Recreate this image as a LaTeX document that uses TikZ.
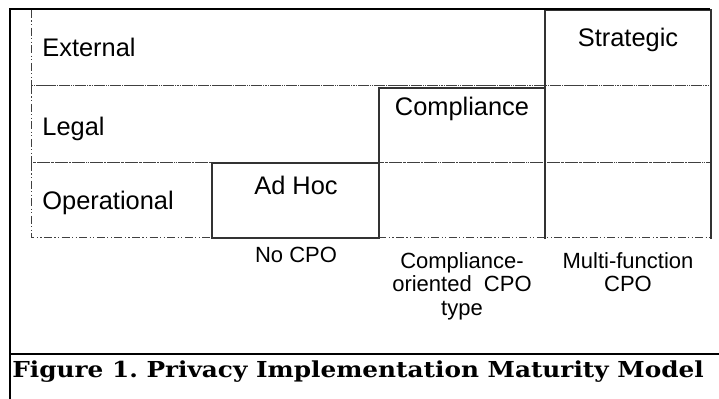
\documentclass[tikz,border=0pt]{standalone}
\usepackage{fontspec}
\setmainfont{Liberation Sans}
\newfontfamily\capfont{DejaVu Serif}
\usetikzlibrary{positioning}

\begin{document}
\begin{tikzpicture}[
            x = 0.5pt, y = -0.5pt, % one unit = one pixel
            frame/.style = {line width = 1pt},
            row/.style = {draw = black!75, line width = 0.5pt,
                dash pattern = on 4pt off 1.2pt on 0.6pt off 1.2pt on 0.6pt off 1.2pt},
            stage/.style = {draw = black!80, line width = 0.6pt},
            tag/.style = {font = \fontsize{12.7}{15}\selectfont, inner sep = 0pt},
            cpo/.style = {font = \fontsize{11}{11.75}\selectfont, align = center, inner sep = 0pt}
        ]
        \useasboundingbox (0,0) rectangle (719,399);

        % dimension rows
        \draw[row] (31,10) rectangle (711,86);
        \draw[row] (31,86) rectangle (711,163);
        \draw[row] (31,163) rectangle (711,238);

        \node[tag, anchor=base west] (Ext) at (42,57) {External};
        \node[tag, anchor=base west] (Leg) at (42,136) {Legal};
        \node[tag, anchor=base west] (Ops) at (42,210) {Operational};

        % maturity stages
        \draw[stage] (212,163) rectangle (379,238);
        \draw[stage] (379,239) |- (545,88) -- (545,239);
        \draw[stage] (545,239) |- (711,10) -- (711,239);

        \node[tag, anchor=base] (AdHoc) at (296,195) {Ad Hoc};
        \node[tag, anchor=base] (Comp) at (462,116) {Compliance};
        \node[tag, anchor=base] (Strat) at (628,47) {Strategic};

        % CPO types
        \node[cpo, anchor=base] (NoCPO) at (296,263) {No CPO};
        \node[cpo, anchor=north] (CompCPO) at (462,252) {Compliance-\\oriented\ \ CPO\\type};
        \node[cpo, anchor=north] (MultiCPO) at (628,252) {Multi-function\\CPO};

        % outer frame and caption
        \draw[frame] (10,399) -- (10,9) -- (710,9);
        \draw[frame] (10,354) -- (719,354);
        \node[anchor=base west, inner sep=0pt] (Caption) at (12,378)
            {\scalebox{1.125}[1]{\capfont\bfseries\fontsize{11}{13}\selectfont\frenchspacing Figure 1. Privacy Implementation Maturity Model}};

\end{tikzpicture}
\end{document}
